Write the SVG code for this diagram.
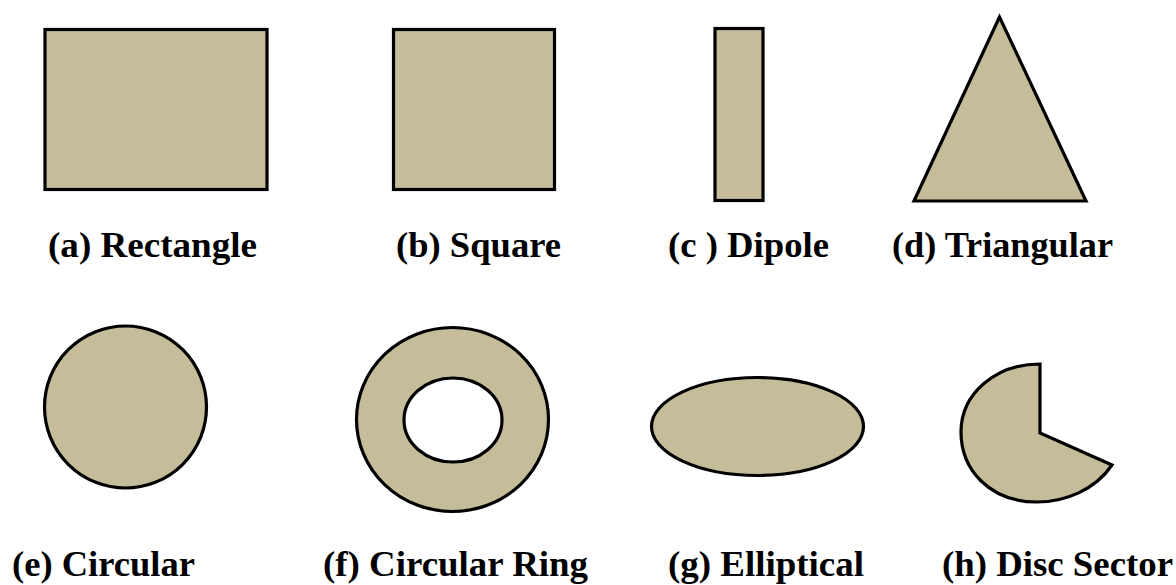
<svg xmlns="http://www.w3.org/2000/svg" width="1176" height="585" viewBox="0 0 1176 585">
<style>
.shape{fill:#C5BD99;stroke:#000;stroke-width:3.2;stroke-linejoin:miter}
.hole{fill:#FFFFFF;stroke:#000;stroke-width:3.2}
.lbl{font-family:"Liberation Serif","Times New Roman",serif;font-weight:bold;font-size:35px;fill:#000}
</style>
<rect width="1176" height="585" fill="#FFFFFF"/>
<g id="rectangle">
<rect class="shape" x="45" y="29.5" width="222" height="160"/>
<text class="lbl" x="48" y="257" textLength="209" lengthAdjust="spacingAndGlyphs">(a) Rectangle</text>
</g>
<g id="square">
<rect class="shape" x="393.5" y="29.5" width="161" height="160"/>
<text class="lbl" x="396" y="257" textLength="165" lengthAdjust="spacingAndGlyphs">(b) Square</text>
</g>
<g id="dipole">
<rect class="shape" x="715" y="28.5" width="48" height="172"/>
<text class="lbl" x="668" y="257" textLength="161" lengthAdjust="spacingAndGlyphs">(c ) Dipole</text>
</g>
<g id="triangular">
<polygon class="shape" points="999.5,17 914,201 1086,201"/>
<text class="lbl" x="892" y="257" textLength="221" lengthAdjust="spacingAndGlyphs">(d) Triangular</text>
</g>
<g id="circular">
<ellipse class="shape" cx="125.5" cy="407" rx="81" ry="81"/>
<text class="lbl" x="12" y="576" textLength="183" lengthAdjust="spacingAndGlyphs">(e) Circular</text>
</g>
<g id="circular-ring">
<ellipse class="shape" cx="452.5" cy="419.5" rx="96" ry="92"/>
<ellipse class="hole" cx="453" cy="420" rx="49" ry="42"/>
<text class="lbl" x="323" y="576" textLength="265" lengthAdjust="spacingAndGlyphs">(f) Circular Ring</text>
</g>
<g id="elliptical">
<ellipse class="shape" cx="757.5" cy="426.5" rx="106" ry="49"/>
<text class="lbl" x="668" y="576" textLength="196" lengthAdjust="spacingAndGlyphs">(g) Elliptical</text>
</g>
<g id="disc-sector">
<path class="shape" d="M1040,364 L1040,433 L1112,465 C1095,490 1065,502 1037,502 C990,502 961,470 961,432 C961,394 995,364 1040,364 Z"/>
<text class="lbl" x="942" y="576" textLength="231" lengthAdjust="spacingAndGlyphs">(h) Disc Sector</text>
</g>
<g id="connectors"></g>
</svg>
